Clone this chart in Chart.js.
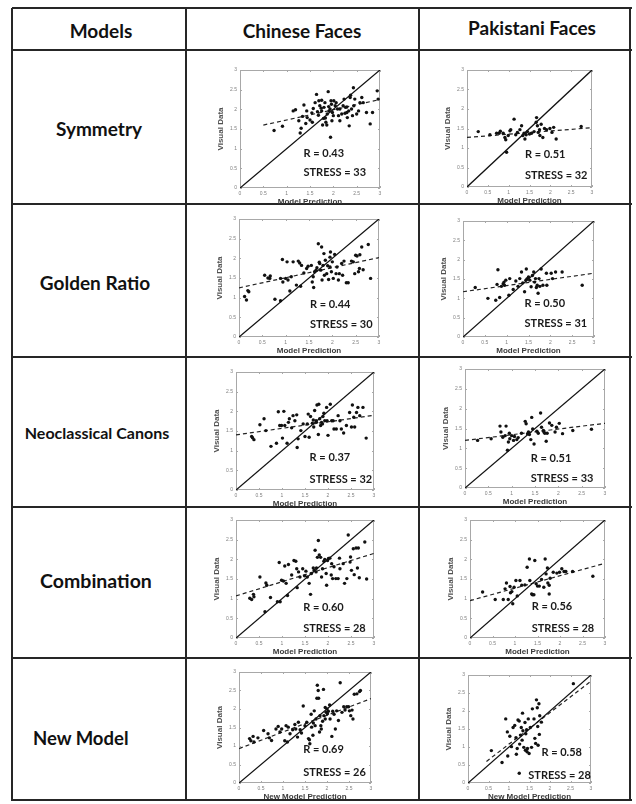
<!DOCTYPE html>
<html>
<head>
<meta charset="utf-8">
<script src="https://cdn.jsdelivr.net/npm/chart.js@4.4.1/dist/chart.umd.min.js"></script>
<style>
  body { margin: 0; background: #fff; }
  #page { position: relative; width: 636px; height: 804px; overflow: hidden; font-family: Lato, "Open Sans", sans-serif; }
  .line { position: absolute; background: #262626; }
  .label { position: absolute; transform: translate(-50%, -50%); font-weight: bold; color: #111; white-space: nowrap; }
  .cell { position: absolute; }
</style>
</head>
<body>
<div id="page"></div>
<script>
const models = ["Symmetry", "Golden Ratio", "Neoclassical Canons", "Combination", "New Model"];
const groups = ["Chinese Faces", "Pakistani Faces"];
const xTitles = ["Model Prediction", "Model Prediction", "Model Prediction", "Model Prediction", "New Model Prediction"];

const rValues = [["0.43", "0.51"], ["0.44", "0.50"], ["0.37", "0.51"], ["0.60", "0.56"], ["0.69", "0.58"]];
const stressValues = [["33", "32"], ["30", "31"], ["32", "33"], ["28", "28"], ["26", "28"]];

// dashed fit line end points [x0, y0, x1, y1]
const fitLines = [
  [[0.5, 1.6, 3, 2.25], [0, 1.27, 3, 1.52]],
  [[0, 1.25, 3, 2.02], [0, 1.17, 3, 1.65]],
  [[0, 1.4, 3, 1.9], [0, 1.2, 3, 1.63]],
  [[0, 1.07, 3, 2.15], [0, 0.95, 3, 1.9]],
  [[0, 0.93, 3, 2.28], [0.45, 0.6, 3, 2.83]]
];

const symmetryChinese = [[0.73,1.46],[0.91,1.57],[1.14,1.96],[1.19,1.99],[1.26,1.71],[1.29,1.40],[1.31,1.52],[1.34,1.82],[1.37,2.11],[1.41,1.64],[1.43,1.96],[1.44,1.79],[1.50,1.73],[1.55,1.67],[1.57,2.02],[1.61,2.17],[1.64,2.38],[1.66,1.94],[1.68,1.85],[1.69,2.22],[1.71,2.09],[1.74,2.03],[1.75,1.96],[1.77,1.60],[1.79,1.77],[1.80,2.05],[1.82,2.17],[1.84,1.67],[1.86,1.60],[1.87,1.88],[1.89,2.45],[1.90,2.07],[1.91,1.96],[1.93,2.01],[1.94,1.29],[1.95,2.22],[1.96,2.13],[1.98,1.92],[2.00,1.84],[2.01,2.22],[2.04,2.09],[2.06,2.17],[2.09,2.01],[2.11,1.84],[2.14,1.71],[2.18,1.88],[2.21,2.09],[2.23,2.26],[2.26,2.05],[2.29,1.92],[2.30,1.79],[2.33,1.96],[2.34,1.58],[2.36,2.30],[2.37,2.36],[2.39,2.01],[2.41,1.84],[2.43,2.55],[2.44,2.09],[2.46,2.26],[2.50,1.88],[2.54,1.96],[2.57,2.17],[2.61,2.30],[2.64,2.17],[2.71,1.92],[2.79,1.63],[2.84,1.92],[2.94,2.47],[2.96,2.26],[1.83,1.78],[1.75,2.23],[2.14,2.01],[2.29,2.06],[2.25,1.90],[1.54,1.91],[1.97,1.71]];
const symmetryPakistani = [[0.27,1.42],[0.55,1.34],[0.71,1.38],[0.77,1.38],[0.80,1.43],[0.87,1.38],[0.91,1.27],[0.93,1.21],[0.95,0.89],[0.99,1.32],[1.03,1.44],[1.05,1.47],[1.13,1.74],[1.17,1.34],[1.21,1.40],[1.27,1.47],[1.31,1.57],[1.34,1.32],[1.37,1.38],[1.39,1.23],[1.42,1.34],[1.45,1.42],[1.50,1.36],[1.55,1.38],[1.61,1.42],[1.66,1.66],[1.67,1.78],[1.69,1.57],[1.71,1.40],[1.74,1.47],[1.75,1.32],[1.78,1.61],[1.82,1.27],[1.86,1.50],[1.91,1.47],[1.99,1.50],[2.04,1.40],[2.08,1.53],[2.14,1.23],[2.74,1.55]];
const goldenChinese = [[0.12,1.03],[0.16,0.94],[0.19,1.18],[0.21,1.15],[0.55,1.57],[0.62,1.50],[0.66,1.49],[0.67,1.55],[0.77,0.96],[0.89,0.92],[0.89,1.49],[0.93,1.97],[0.94,1.40],[1.00,1.49],[1.03,1.91],[1.05,1.45],[1.09,1.17],[1.12,1.53],[1.16,1.91],[1.23,1.32],[1.27,1.93],[1.30,1.88],[1.32,1.29],[1.34,1.82],[1.39,1.63],[1.45,1.74],[1.48,1.80],[1.55,1.82],[1.57,1.40],[1.59,1.53],[1.60,1.26],[1.62,1.66],[1.67,1.76],[1.70,2.37],[1.73,1.87],[1.75,1.70],[1.77,2.29],[1.78,1.45],[1.80,1.82],[1.82,2.12],[1.83,1.57],[1.85,1.95],[1.88,1.61],[1.90,1.81],[1.92,1.46],[1.95,2.03],[1.96,2.16],[1.98,1.66],[2.00,1.91],[2.02,1.49],[2.05,2.10],[2.08,1.61],[2.10,1.78],[2.13,1.45],[2.15,1.61],[2.20,1.87],[2.22,1.57],[2.25,1.93],[2.30,1.38],[2.34,1.38],[2.41,1.93],[2.45,1.91],[2.48,1.61],[2.50,2.08],[2.53,2.06],[2.56,1.66],[2.58,1.74],[2.59,2.09],[2.63,2.29],[2.66,1.71],[2.77,2.35],[2.82,1.49],[1.65,1.70],[1.72,1.90],[1.95,1.78]];
const goldenPakistani = [[0.28,1.28],[0.57,1.00],[0.75,0.95],[0.80,1.74],[0.78,1.36],[0.84,1.02],[0.88,1.31],[0.92,1.38],[0.94,1.42],[0.95,1.34],[0.98,1.47],[1.05,1.08],[1.07,1.51],[1.15,1.23],[1.21,1.45],[1.26,1.31],[1.30,1.51],[1.34,1.68],[1.37,1.40],[1.41,1.17],[1.44,1.47],[1.45,1.76],[1.47,1.51],[1.50,1.55],[1.53,1.47],[1.56,1.30],[1.59,1.59],[1.62,1.68],[1.64,1.42],[1.66,1.51],[1.68,1.28],[1.70,1.34],[1.72,1.13],[1.74,1.51],[1.76,1.31],[1.79,1.76],[1.83,1.34],[1.91,1.65],[1.92,1.34],[2.02,1.65],[2.05,1.51],[2.12,1.68],[2.27,1.68],[2.73,1.34]];
const neoChinese = [[0.34,1.36],[0.36,1.33],[0.39,1.28],[0.52,1.66],[0.61,1.81],[0.65,1.51],[0.76,1.11],[0.88,1.19],[0.92,1.99],[0.95,1.64],[0.99,1.64],[1.01,1.32],[1.04,2.00],[1.06,1.64],[1.11,1.19],[1.14,1.72],[1.16,1.81],[1.21,1.58],[1.24,1.89],[1.28,1.76],[1.32,1.91],[1.33,1.08],[1.35,1.30],[1.41,1.51],[1.46,1.68],[1.50,1.36],[1.55,1.68],[1.57,1.93],[1.59,1.34],[1.62,1.87],[1.66,1.70],[1.68,1.78],[1.69,1.60],[1.71,2.02],[1.74,1.76],[1.75,1.72],[1.76,2.16],[1.79,1.41],[1.80,2.18],[1.82,1.81],[1.84,1.64],[1.86,1.72],[1.88,1.68],[1.89,1.87],[1.91,1.95],[1.93,1.76],[1.97,2.10],[1.98,1.76],[2.00,1.39],[2.05,2.18],[2.08,1.76],[2.11,1.76],[2.13,1.55],[2.18,1.55],[2.22,1.89],[2.26,1.76],[2.29,1.55],[2.34,1.45],[2.40,1.64],[2.47,1.97],[2.51,1.60],[2.53,2.16],[2.56,1.85],[2.58,1.60],[2.62,1.97],[2.65,2.10],[2.69,1.89],[2.76,2.10],[2.83,1.32]];
const neoPakistani = [[0.27,1.20],[0.56,1.24],[0.75,1.56],[0.77,1.41],[0.81,1.28],[0.86,1.32],[0.88,1.56],[0.91,0.95],[0.93,1.16],[0.95,1.38],[0.96,1.24],[1.00,1.32],[1.04,1.20],[1.06,1.30],[1.11,1.22],[1.14,1.27],[1.21,1.38],[1.29,1.68],[1.31,1.62],[1.34,1.37],[1.36,1.41],[1.38,1.35],[1.41,1.22],[1.43,1.78],[1.45,1.49],[1.48,1.11],[1.54,1.43],[1.57,1.38],[1.62,1.89],[1.64,1.53],[1.68,1.45],[1.69,1.41],[1.71,1.38],[1.74,1.18],[1.76,1.38],[1.81,1.64],[1.86,1.58],[1.93,1.41],[1.96,1.53],[2.02,1.63],[2.09,1.37],[2.31,1.45],[2.71,1.48]];
const combChinese = [[0.30,1.01],[0.34,0.98],[0.38,1.11],[0.39,1.05],[0.52,1.55],[0.63,0.67],[0.65,1.40],[0.67,1.34],[0.75,1.03],[0.90,0.92],[0.94,1.92],[0.96,0.92],[0.99,1.47],[1.03,1.45],[1.06,1.83],[1.09,1.39],[1.12,1.08],[1.14,1.87],[1.21,1.60],[1.26,1.97],[1.30,1.95],[1.32,1.76],[1.33,1.28],[1.36,1.68],[1.39,1.55],[1.45,1.76],[1.49,1.58],[1.52,1.70],[1.55,1.55],[1.59,1.39],[1.62,1.11],[1.64,1.64],[1.68,1.78],[1.70,1.72],[1.72,2.23],[1.74,1.68],[1.75,1.78],[1.77,2.05],[1.79,2.48],[1.81,2.11],[1.84,2.05],[1.86,1.55],[1.88,1.76],[1.91,1.95],[1.93,2.00],[1.96,1.64],[1.97,1.34],[1.99,1.97],[2.01,2.02],[2.04,2.03],[2.07,1.60],[2.08,1.89],[2.10,1.51],[2.13,1.81],[2.17,1.51],[2.22,1.51],[2.25,2.03],[2.26,1.76],[2.33,1.89],[2.36,1.39],[2.41,1.51],[2.44,2.62],[2.48,1.93],[2.49,2.06],[2.51,1.72],[2.55,2.27],[2.57,1.61],[2.61,2.29],[2.64,1.78],[2.66,2.29],[2.68,1.53],[2.80,2.44],[2.84,1.50]];
const combPakistani = [[0.28,1.17],[0.56,0.98],[0.74,0.98],[0.78,1.25],[0.81,1.40],[0.85,0.98],[0.89,1.31],[0.90,1.15],[0.93,1.18],[0.95,0.87],[0.98,1.29],[1.02,1.46],[1.05,1.07],[1.11,1.46],[1.15,1.34],[1.22,1.35],[1.27,1.80],[1.32,2.01],[1.33,1.46],[1.37,1.12],[1.39,1.10],[1.44,1.97],[1.42,1.10],[1.47,1.38],[1.50,1.32],[1.54,1.32],[1.59,1.49],[1.64,1.29],[1.67,2.01],[1.69,1.63],[1.72,1.78],[1.73,1.40],[1.76,1.34],[1.78,1.52],[1.76,1.12],[1.85,1.67],[1.93,1.65],[1.99,1.67],[2.04,1.76],[2.09,1.69],[2.13,1.69],[2.28,1.69],[2.73,1.57]];
const newChinese = [[0.24,1.20],[0.27,1.14],[0.32,1.26],[0.34,1.11],[0.43,1.22],[0.56,1.42],[0.66,1.33],[0.69,1.22],[0.74,1.15],[0.84,1.46],[0.89,1.53],[0.93,1.38],[0.97,1.46],[1.04,1.14],[1.07,1.55],[1.10,1.11],[1.12,1.51],[1.16,1.33],[1.22,1.44],[1.27,1.58],[1.29,1.46],[1.33,1.24],[1.35,1.64],[1.39,1.44],[1.42,1.35],[1.46,2.08],[1.50,1.55],[1.54,1.64],[1.58,1.20],[1.60,1.17],[1.61,1.06],[1.64,1.86],[1.65,1.51],[1.68,1.29],[1.69,1.62],[1.71,1.95],[1.73,1.55],[1.75,1.73],[1.77,2.29],[1.78,2.64],[1.80,2.50],[1.81,2.29],[1.83,1.38],[1.84,1.82],[1.86,1.55],[1.87,1.46],[1.90,1.67],[1.92,2.53],[1.93,1.82],[1.96,1.73],[1.98,1.91],[2.00,2.00],[2.01,1.87],[2.03,1.94],[2.06,2.11],[2.07,1.73],[2.11,1.26],[2.13,1.94],[2.16,1.86],[2.19,1.46],[2.22,1.95],[2.26,1.69],[2.30,2.71],[2.34,1.91],[2.38,2.06],[2.41,1.97],[2.45,2.06],[2.49,2.06],[2.51,1.95],[2.54,1.82],[2.57,1.97],[2.59,1.73],[2.62,2.40],[2.68,2.41],[2.74,2.47],[2.76,2.50],[1.96,2.04]];
const newPakistani = [[0.57,0.90],[0.83,0.57],[0.92,1.78],[0.96,1.42],[0.97,0.75],[1.02,1.30],[1.06,1.01],[1.10,1.54],[1.14,1.60],[1.17,1.26],[1.18,0.80],[1.20,0.96],[1.22,1.75],[1.25,1.72],[1.26,1.08],[1.28,1.33],[1.30,1.54],[1.32,1.19],[1.33,1.94],[1.34,1.45],[1.36,0.99],[1.39,1.68],[1.40,0.91],[1.41,1.37],[1.43,1.48],[1.44,0.87],[1.45,0.96],[1.47,1.78],[1.49,0.82],[1.52,1.54],[1.55,0.99],[1.57,2.06],[1.61,1.78],[1.63,1.24],[1.65,1.10],[1.67,2.31],[1.69,2.09],[1.70,1.57],[1.71,1.05],[1.73,2.20],[1.74,1.35],[1.75,1.87],[1.79,1.69],[2.57,2.76],[1.25,0.27]];

const scatterData = [
  [symmetryChinese, symmetryPakistani],
  [goldenChinese, goldenPakistani],
  [neoChinese, neoPakistani],
  [combChinese, combPakistani],
  [newChinese, newPakistani]
];

// layout: plot boxes [left, top, right, bottom] in page pixels
const plotBoxes = [
  [[240, 69, 380, 188], [467, 69, 592, 187]],
  [[239, 218, 379, 337], [463, 220, 594, 337]],
  [[236, 371, 374, 490], [465, 368, 605, 488]],
  [[236, 519, 374, 638], [470, 519, 605, 638]],
  [[239, 671, 371, 783], [468, 674, 591, 783]]
];
// text anchors in data units: [rX, rY, sX, sY]
const textPos = [
  [[1.36, 0.89, 1.36, 0.39], [1.39, 0.83, 1.39, 0.30]],
  [[1.52, 0.84, 1.52, 0.31], [1.41, 0.87, 1.41, 0.34]],
  [[1.60, 0.82, 1.60, 0.27], [1.41, 0.75, 1.41, 0.23]],
  [[1.46, 0.78, 1.46, 0.25], [1.37, 0.79, 1.37, 0.24]],
  [[1.46, 0.91, 1.46, 0.28], [1.79, 0.84, 1.47, 0.20]]
];

const page = document.getElementById("page");

function addLine(x, y, w, h) {
  const d = document.createElement("div");
  d.className = "line";
  Object.assign(d.style, { left: x + "px", top: y + "px", width: w + "px", height: h + "px" });
  page.appendChild(d);
}

function addLabel(text, x, y, size, align) {
  const d = document.createElement("div");
  d.className = "label";
  d.textContent = text;
  d.style.left = x + "px";
  d.style.top = y + "px";
  d.style.fontSize = size + "px";
  if (align === "left") d.style.transform = "translate(0, -50%)";
  page.appendChild(d);
}

// table grid
const rowLines = [8, 50, 204, 357, 507, 658, 800];
const colLines = [12, 186, 419, 630];
rowLines.forEach((y) => addLine(12, y - 1, 620, 2));
colLines.forEach((x) => addLine(x - 1, 8, 2, 793));

addLabel("Models", 101, 30, 19);
addLabel(groups[0], 302, 30, 19);
addLabel(groups[1], 532, 27, 19);

const labelPos = [[99, 128, 19], [95, 282, 19], [97, 432, 16], [96, 580, 19.5], [33, 738, 18.5]];
models.forEach((m, i) => {
  const [x, y, s] = labelPos[i];
  addLabel(m, x, y, s, i === 4 ? "left" : "center");
});

const frame = {
  id: "frame",
  beforeDatasetsDraw(chart) {
    const { ctx, chartArea: a, scales } = chart;
    ctx.save();
    ctx.strokeStyle = "#a8a8a8";
    ctx.lineWidth = 1;
    ctx.strokeRect(a.left + 0.5, a.top + 0.5, a.right - a.left - 1, a.bottom - a.top - 1);
    ctx.beginPath();
    scales.x.ticks.forEach((t) => {
      const px = Math.round(scales.x.getPixelForValue(t.value)) + 0.5;
      ctx.moveTo(px, a.bottom); ctx.lineTo(px, a.bottom - 2);
      ctx.moveTo(px, a.top); ctx.lineTo(px, a.top + 2);
    });
    scales.y.ticks.forEach((t) => {
      const py = Math.round(scales.y.getPixelForValue(t.value)) + 0.5;
      ctx.moveTo(a.left, py); ctx.lineTo(a.left + 2, py);
      ctx.moveTo(a.right, py); ctx.lineTo(a.right - 2, py);
    });
    ctx.stroke();
    ctx.restore();
  }
};

const statText = {
  id: "statText",
  afterDatasetsDraw(chart, args, opts) {
    const { ctx, scales } = chart;
    const [rx, ry, sx, sy] = opts.pos;
    ctx.save();
    ctx.fillStyle = "#1a1a1a";
    ctx.font = "bold 11px Lato, sans-serif";
    ctx.textBaseline = "middle";
    ctx.textAlign = "left";
    ctx.fillText("R = " + opts.r, scales.x.getPixelForValue(rx), scales.y.getPixelForValue(ry));
    ctx.fillText("STRESS = " + opts.stress, scales.x.getPixelForValue(sx), scales.y.getPixelForValue(sy));
    ctx.restore();
  }
};

Chart.defaults.font.family = "'Liberation Sans', Arial, sans-serif";

function axis(title, size, isY) {
  return {
    type: "linear",
    min: 0,
    max: 3,
    grid: { display: false, drawTicks: false },
    border: { display: false },
    ticks: { stepSize: 0.5, font: { size: 5 }, color: "#808080", padding: 3, maxRotation: 0, callback: (v) => String(v) },
    title: { display: true, text: title, color: isY ? "#505050" : "#3a3a3a", font: { size: size, weight: "bold" }, padding: 0 },
    afterFit: (s) => { if (isY) s.width = 24; else s.height = 19; }
  };
}

scatterData.forEach((row, i) => {
  row.forEach((pts, j) => {
    const [l, t, r, b] = plotBoxes[i][j];
    const w = r - l + 24 + 5;
    const h = b - t + 5 + 19;
    const cell = document.createElement("div");
    cell.className = "cell";
    cell.style.left = (l - 24) + "px";
    cell.style.top = (t - 5) + "px";
    const canvas = document.createElement("canvas");
    canvas.width = w;
    canvas.height = h;
    canvas.style.width = w + "px";
    canvas.style.height = h + "px";
    cell.appendChild(canvas);
    page.appendChild(cell);

    const fit = fitLines[i][j];
    new Chart(canvas, {
      type: "scatter",
      data: {
        datasets: [
          {
            data: pts.map((p) => ({ x: p[0], y: p[1] })),
            backgroundColor: "#111",
            borderColor: "#111",
            pointRadius: 1.7,
            borderWidth: 0
          },
          {
            data: [{ x: 0, y: 0 }, { x: 3, y: 3 }],
            showLine: true,
            borderColor: "#111",
            borderWidth: 1.3,
            pointRadius: 0
          },
          {
            data: [{ x: fit[0], y: fit[1] }, { x: fit[2], y: fit[3] }],
            showLine: true,
            borderColor: "#222",
            borderWidth: 1.2,
            borderDash: [4, 3],
            pointRadius: 0
          }
        ]
      },
      options: {
        responsive: false,
        animation: false,
        layout: { padding: { left: 0, top: 5, right: 5, bottom: 0 } },
        plugins: {
          legend: { display: false },
          tooltip: { enabled: false },
          statText: { r: rValues[i][j], stress: stressValues[i][j], pos: textPos[i][j] }
        },
        scales: {
          x: axis(xTitles[i], 8, false),
          y: axis("Visual Data", 8, true)
        }
      },
      plugins: [frame, statText]
    });
  });
});
</script>
</body>
</html>
